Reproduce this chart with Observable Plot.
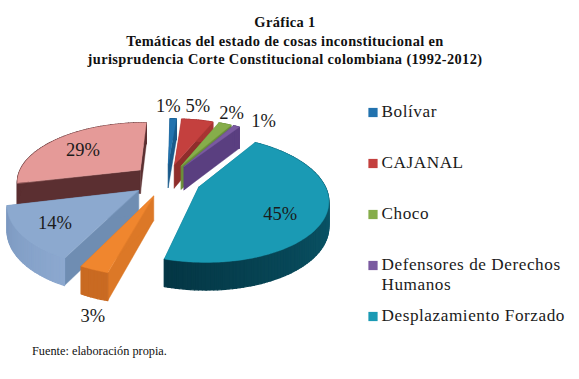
<!DOCTYPE html>
<html><head><meta charset="utf-8">
<script src="https://cdn.jsdelivr.net/npm/d3@7"></script>
<script src="https://cdn.jsdelivr.net/npm/@observablehq/plot@0.6"></script>
<style>
html,body{margin:0;padding:0;background:#fff;width:579px;height:379px;overflow:hidden}
#title{position:absolute;left:0;top:13px;width:570px;text-align:center;font:bold 14.4px/18.5px "Liberation Serif",serif;letter-spacing:.37px;color:#111}
#chart{position:absolute;left:0;top:90px}
#caption{position:absolute;left:32px;top:345px;font:12.3px/13px "Liberation Serif",serif;color:#111}
svg text{fill:#1b1b1b}
g[text-anchor=start] text{letter-spacing:.55px}
</style></head><body>
<div id="title">Gráfica 1<br>Temáticas del estado de cosas inconstitucional en<br>jurisprudencia Corte Constitucional colombiana (1992-2012)</div>
<div id="chart"></div>
<div id="caption">Fuente: elaboración propia.</div>
<script>
// Data
const sliceValues = [1, 5, 2, 1, 45, 3, 14, 29];
const legendNames = ["Bolívar", "CAJANAL", "Choco", "Defensores de Derechos\nHumanos", "Desplazamiento Forzado"];

// Styles
const topColors  = ["#2272ae", "#c4403e", "#86ad4a", "#7a5aa0", "#1a9ab4", "#f0862e", "#8ca9cf", "#e59a98"];
const wallStart  = ["#1a5a8a", "#a83533", "#6b8e3a", "#5a3f80", "#0f6d83", "#c96a22", "#7c99c0", "#5b2f31"];
const wallEnd    = ["#1a5a8a", "#a83533", "#6b8e3a", "#5a3f80", "#043644", "#c96a22", "#8ca8cf", "#5b2f31"];
const sideColors = ["#1a5a8a", "#8f2d2b", "#6b8e3a", "#5a3f80", "#0f6d83", "#dc7827", "#6f8db2", "#5b2f31"];
const paintOrder = [0, 1, 2, 3, 4, 7, 6, 5];
const labelNudge = [[-4,-25],[6,-26],[18,-23],[41,-17],[-6,8],[-22,71],[-5,2],[1,2]];

// Layout of the tilted, exploded pie
const W = 579, H = 245;
const cx = 166.5, cy = 90, rx = 124, ry = 59, persp = 0.18, explode = 0.28, depth = 24, labelR = 0.7, firstAngle = 1.2 * Math.PI / 180;
const legendX = 372.5, legendTextX = 381, legendY0 = 22, legendStep = 51;

function ground(mid, theta, r) {
  return [explode * Math.sin(mid) + r * Math.sin(theta), explode * Math.cos(mid) + r * Math.cos(theta)];
}
function toScreen([u, v], drop = 0) {
  const w = 1 + persp * v;
  return [cx + rx * u / w, cy - ry * v / w + drop / (0.35 + 0.65 * w)];
}

const total = d3.sum(sliceValues);
const cum = d3.cumsum(sliceValues);
const slices = sliceValues.map((value, i) => {
  const a0 = firstAngle + 2 * Math.PI * (i ? cum[i - 1] : 0) / total;
  const a1 = firstAngle + 2 * Math.PI * cum[i] / total;
  return {i, value, a0, a1, mid: (a0 + a1) / 2};
});

const rows = [];
function quad(id, fill, sw, a, b, c, d) {
  rows.push({id, fill, sw, x1: a[0], y1: a[1], x2: d[0], y2: d[1]});
  rows.push({id, fill, sw, x1: b[0], y1: b[1], x2: c[0], y2: c[1]});
}
for (const k of paintOrder) {
  const s = slices[k];
  const steps = Math.max(2, Math.ceil((s.a1 - s.a0) * 40));
  const apex = ground(s.mid, 0, 0);
  const rim = d3.range(steps + 1).map(j => ground(s.mid, s.a0 + (s.a1 - s.a0) * j / steps, 1));
  for (const g of [rim[0], rim[steps]]) {
    quad(`s${k}-${g === rim[0] ? "a" : "b"}`, sideColors[k], 0.4, toScreen(apex), toScreen(g), toScreen(g, depth), toScreen(apex, depth));
  }
  const mix = d3.interpolateRgb(wallStart[k], wallEnd[k]);
  const ord = s.mid > Math.PI ? j => 1 - j / steps : j => j / steps;
  for (let j = 0; j < steps; j++) {
    quad(`w${k}-${j}`, mix(ord(j)), 1.2, toScreen(rim[j]), toScreen(rim[j + 1]), toScreen(rim[j + 1], depth), toScreen(rim[j], depth));
  }
  const a = toScreen(apex);
  for (const g of rim) {
    const p = toScreen(g);
    rows.push({id: `t${k}`, fill: topColors[k], sw: 0.4, x1: p[0], y1: p[1], x2: a[0], y2: a[1]});
  }
}

const labels = slices.map(s => {
  const [x, y] = toScreen(ground(s.mid, s.mid, labelR));
  return {text: s.value + "%", x: x + labelNudge[s.i][0], y: y + labelNudge[s.i][1]};
});
const legend = legendNames.map((name, i) => ({name, color: topColors[i], y: legendY0 + i * legendStep}));

const plot = Plot.plot({
  width: W, height: H, margin: 0,
  x: {domain: [0, W], range: [0, W], axis: null},
  y: {domain: [0, H], range: [0, H], axis: null},
  color: {type: "identity"},
  marks: [
    Plot.area(rows, {x1: "x1", y1: "y1", x2: "x2", y2: "y2", z: "id", fill: "fill", stroke: "fill", strokeWidth: "sw", curve: "linear"}),
    Plot.text(labels, {x: "x", y: "y", text: "text", fontSize: 18.5, fontFamily: "Liberation Serif"}),
    Plot.dot(legend, {x: () => legendX, y: "y", symbol: "square", r: 5.2, fill: "color"}),
    Plot.text(legend, {x: () => legendTextX, y: "y", text: "name", textAnchor: "start", lineAnchor: "top", dy: -9.5, fontSize: 17.2, lineHeight: 1.17, fontFamily: "Liberation Serif"})
  ]
});
document.getElementById("chart").append(plot);
d3.select(plot).style("background", "transparent");
</script>
</body></html>
